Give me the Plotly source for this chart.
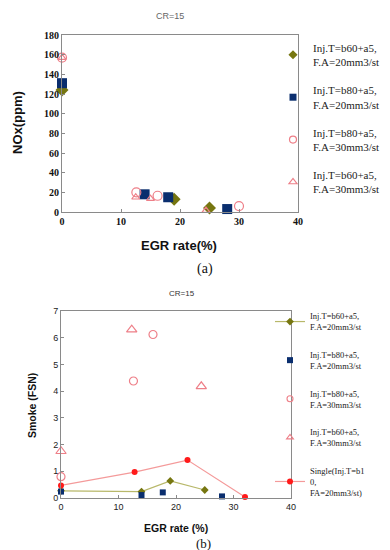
import plotly.graph_objects as go

W, H = 390, 550

# ---------------- data: (a) NOx ----------------
nox_b60_f20_x = [0, 19, 25]
nox_b60_f20_y = [124, 13, 4]
nox_b80_f20_x = [0, 14, 18, 28]
nox_b80_f20_y = [131, 18, 15, 3]
nox_b80_f30_x = [0, 12.6, 16.2, 30]
nox_b80_f30_y = [157, 20, 16.5, 6]
nox_b60_f30_x = [0, 12.5, 15, 24.4]
nox_b60_f30_y = [157, 15, 13.5, 1.5]

# ---------------- data: (b) Smoke ----------------
sm_b60_f20_x = [0, 14, 19, 25]
sm_b60_f20_y = [0.27, 0.24, 0.64, 0.3]
sm_b80_f20_x = [0, 14, 17.7, 28]
sm_b80_f20_y = [0.24, 0.11, 0.21, 0.06]
sm_b80_f30_x = [0, 12.6, 16]
sm_b80_f30_y = [0.8, 4.38, 6.12]
sm_b60_f30_x = [0, 12.3, 24.4]
sm_b60_f30_y = [1.75, 6.3, 4.18]
sm_single_x = [0, 12.8, 22, 32]
sm_single_y = [0.47, 0.97, 1.42, 0.04]

x_ticks = [0, 10, 20, 30, 40]
nox_ticks = [0, 20, 40, 60, 80, 100, 120, 140, 160, 180]
smoke_ticks = [0, 1, 2, 3, 4, 5, 6, 7]

labels_top = ["Inj.T=b60+a5,<br>F.A=20mm3/st", "Inj.T=b80+a5,<br>F.A=20mm3/st",
              "Inj.T=b80+a5,<br>F.A=30mm3/st", "Inj.T=b60+a5,<br>F.A=30mm3/st"]
labels_bot = labels_top + ["Single(Inj.T=b1<br>0,<br>FA=20mm3/st)"]

OLIVE = "#767610"
NAVY = "#0a2e6e"
PINK = "#ee7f88"
RED = "#ff1a1a"
SERIF = "Liberation Serif, Times New Roman, serif"
SANS = "Liberation Sans, Arial, sans-serif"


def px_x(p):
    return p / W


def px_y(p):
    return 1 - p / H


fig = go.Figure()


def add(xs, ys, name, mode, marker, line, legend_marker, ax, leg, grp):
    # data trace
    fig.add_trace(go.Scatter(x=xs, y=ys, mode=mode, name=name, marker=marker, line=line,
                             xaxis="x" + ax, yaxis="y" + ax, showlegend=False,
                             legendgroup=grp, cliponaxis=False))
    # legend entry (smaller symbol, as in the original)
    fig.add_trace(go.Scatter(x=[None], y=[None], mode=mode, name=name, marker=legend_marker,
                             line=line, xaxis="x" + ax, yaxis="y" + ax, legend=leg,
                             legendgroup=grp, showlegend=True))


# (a)
add(nox_b60_f20_x, nox_b60_f20_y, labels_top[0], "markers",
    dict(symbol="diamond", size=10, color=OLIVE), None,
    dict(symbol="diamond", size=7, color=OLIVE), "", "legend", "a1")
add(nox_b80_f20_x, nox_b80_f20_y, labels_top[1], "markers",
    dict(symbol="square", size=10, color=NAVY), None,
    dict(symbol="square", size=7, color=NAVY), "", "legend", "a2")
add(nox_b80_f30_x, nox_b80_f30_y, labels_top[2], "markers",
    dict(symbol="circle-open", size=9, color=PINK, line=dict(width=1.2)), None,
    dict(symbol="circle-open", size=7, color=PINK, line=dict(width=1.2)), "", "legend", "a3")
add(nox_b60_f30_x, nox_b60_f30_y, labels_top[3], "markers",
    dict(symbol="triangle-up-open", size=7, color=PINK, line=dict(width=1.2)), None,
    dict(symbol="triangle-up-open", size=7, color=PINK, line=dict(width=1.2)), "", "legend", "a4")

# (b)
add(sm_b60_f20_x, sm_b60_f20_y, labels_bot[0], "lines+markers",
    dict(symbol="diamond", size=6, color=OLIVE), dict(color="#b8b86a", width=1.2),
    dict(symbol="diamond", size=6, color=OLIVE), "2", "legend2", "b1")
add(sm_b80_f20_x, sm_b80_f20_y, labels_bot[1], "markers",
    dict(symbol="square", size=6, color=NAVY), None,
    dict(symbol="square", size=6, color=NAVY), "2", "legend2", "b2")
add(sm_b80_f30_x, sm_b80_f30_y, labels_bot[2], "markers",
    dict(symbol="circle-open", size=8, color=PINK, line=dict(width=1.2)), None,
    dict(symbol="circle-open", size=6, color=PINK, line=dict(width=1.1)), "2", "legend2", "b3")
add(sm_b60_f30_x, sm_b60_f30_y, labels_bot[3], "markers",
    dict(symbol="triangle-up-open", size=9, color=PINK, line=dict(width=1.2)), None,
    dict(symbol="triangle-up-open", size=6, color=PINK, line=dict(width=1.1)), "2", "legend2", "b4")
add(sm_single_x, sm_single_y, labels_bot[4], "lines+markers",
    dict(symbol="circle", size=6, color=RED), dict(color="#f49a9a", width=1.2),
    dict(symbol="circle", size=6, color=RED), "2", "legend2", "b5")

axis_common = dict(showline=True, mirror=True, linecolor="#8a8a8a", linewidth=1,
                   ticks="inside", ticklen=3, tickcolor="#8a8a8a",
                   showgrid=False, zeroline=False, fixedrange=True, automargin=False)

serif_bold = dict(family=SERIF, size=10, color="#111", weight="bold")
sans_tick = dict(family=SANS, size=9, color="#222")

fig.update_layout(
    width=W, height=H,
    margin=dict(l=0, r=0, t=0, b=0, pad=0, autoexpand=False),
    paper_bgcolor="white", plot_bgcolor="white",
    xaxis=dict(domain=[px_x(54), px_x(290)], range=[0, 40], tickvals=x_ticks,
               tickfont=serif_bold, anchor="y", **axis_common),
    yaxis=dict(domain=[px_y(204), px_y(27)], range=[0, 180], tickvals=nox_ticks,
               tickfont=serif_bold, anchor="x", **axis_common),
    xaxis2=dict(domain=[px_x(53), px_x(283)], range=[0, 40], tickvals=x_ticks,
                tickfont=sans_tick, anchor="y2", **axis_common),
    yaxis2=dict(domain=[px_y(490), px_y(303)], range=[0, 7], tickvals=smoke_ticks,
                tickfont=sans_tick, anchor="x2", **axis_common),
    legend=dict(x=px_x(265), y=px_y(26), xanchor="left", yanchor="top",
                font=dict(family=SERIF, size=11, color="#222"),
                tracegroupgap=10.8, bgcolor="rgba(0,0,0,0)", itemwidth=30),
    legend2=dict(x=px_x(262), y=px_y(296), xanchor="left", yanchor="top",
                 font=dict(family=SERIF, size=8.5, color="#222"),
                 tracegroupgap=13.5, bgcolor="rgba(0,0,0,0)", itemwidth=30),
    showlegend=True,
)

ann = [
    dict(text="CR=15", x=px_x(162), y=px_y(8), font=dict(family=SANS, size=9, color="#666")),
    dict(text="<b>NOx(ppm)</b>", x=px_x(9), y=px_y(115), textangle=-90,
         font=dict(family=SANS, size=13, color="#111")),
    dict(text="<b>EGR rate(%)</b>", x=px_x(171), y=px_y(237),
         font=dict(family=SANS, size=13, color="#111")),
    dict(text="(a)", x=px_x(197), y=px_y(261), font=dict(family=SERIF, size=14, color="#111")),
    dict(text="CR=15", x=px_x(174), y=px_y(285), font=dict(family=SANS, size=8, color="#333")),
    dict(text="<b>Smoke (FSN)</b>", x=px_x(24), y=px_y(398), textangle=-90,
         font=dict(family=SANS, size=10.5, color="#111")),
    dict(text="<b>EGR rate (%)</b>", x=px_x(168), y=px_y(520),
         font=dict(family=SANS, size=10.5, color="#111")),
    dict(text="(b)", x=px_x(195), y=px_y(535), font=dict(family=SERIF, size=13, color="#111")),
]
for a in ann:
    a.update(xref="paper", yref="paper", showarrow=False, xanchor="center", yanchor="middle")
fig.update_layout(annotations=ann)

fig.write_html("out.html")
